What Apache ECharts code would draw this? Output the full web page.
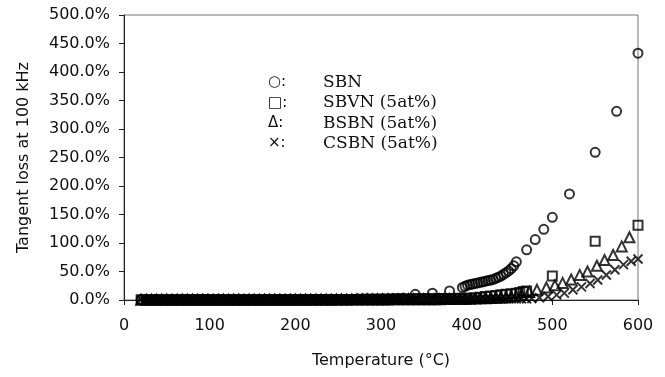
<!DOCTYPE html>
<html>
<head>
<meta charset="utf-8">
<script src="https://cdn.jsdelivr.net/npm/echarts@6/dist/echarts.min.js"></script>
<style>
  html, body { margin: 0; padding: 0; background: #fff; }
  #chart { width: 665px; height: 377px; }
</style>
</head>
<body>
<div id="chart"></div>
<script>
// dense low-temperature region shared by all samples (deg C)
const lowTemps = [20, 26, 32, 38, 44, 50, 56, 62, 68, 74, 80, 86, 92, 98, 104, 110, 116, 122, 128, 134,
  140, 146, 152, 158, 164, 170, 176, 182, 188, 194, 200, 206, 212, 218, 224, 230, 236, 242, 248, 254,
  260, 266, 272, 278, 284, 290, 296, 302, 308, 314, 320, 326, 332, 338, 344, 350, 356, 362, 368, 374,
  380, 386, 392, 398];

// tangent loss (%) - SBN
const sbnLow = [0.8, 1.0, 0.9, 1.2, 1.0, 1.1, 0.9, 1.0, 1.2, 1.1, 1.0, 0.9, 1.1, 1.2, 1.0, 1.1, 1.0, 0.9, 1.1, 1.2,
  1.0, 1.1, 1.2, 1.0, 1.1, 1.3, 1.2, 1.1, 1.0, 1.2, 1.3, 1.1, 1.2, 1.3, 1.2, 1.4, 1.3, 1.2, 1.4, 1.5,
  1.3, 1.4, 1.6, 1.5, 1.7, 1.6, 1.8, 2.0, 2.1, 2.3, 2.6, 3.0];
const sbnHighT = [340, 360, 380, 395, 398, 401, 404, 407, 410, 413, 416, 419, 422, 425, 428, 431, 434, 437,
  440, 443, 446, 449, 452, 455, 458, 470, 480, 490, 500, 520, 550, 575, 600];
const sbnHighV = [10, 12, 16, 22, 24, 26, 27, 28, 29, 30, 31, 32, 33, 34, 35, 36, 38, 40,
  42, 45, 48, 51, 55, 60, 67, 88, 106, 124, 145, 186, 259, 331, 433];

// SBVN (5at%)
const sbvnLow = [0.5, 0.6, 0.4, 0.5, 0.6, 0.5, 0.4, 0.5, 0.6, 0.5, 0.5, 0.4, 0.6, 0.5, 0.5, 0.6, 0.5, 0.4, 0.5, 0.6,
  0.5, 0.5, 0.6, 0.5, 0.4, 0.5, 0.6, 0.5, 0.5, 0.6, 0.5, 0.6, 0.7, 0.6, 0.7, 0.8, 0.7, 0.8, 0.9, 0.8,
  0.9, 1.0, 1.0, 1.1, 1.2, 1.2, 1.3, 1.4, 1.5, 1.6, 1.7, 1.8, 1.9, 2.0, 2.1, 2.2, 2.3, 2.4, 2.5, 2.6,
  2.7, 2.8, 2.9, 3.0];
const sbvnHighT = [404, 410, 416, 422, 428, 434, 440, 446, 452, 458, 462, 466, 470, 500, 550, 600];
const sbvnHighV = [3, 4, 5, 6, 7, 8, 9, 10, 11, 12, 13, 15, 16, 42, 103, 131];

// BSBN (5at%)
const bsbnLow = [0.3, 0.4, 0.3, 0.5, 0.4, 0.3, 0.4, 0.5, 0.3, 0.4, 0.4, 0.3, 0.5, 0.4, 0.3, 0.4, 0.5, 0.4, 0.3, 0.4,
  0.4, 0.5, 0.3, 0.4, 0.4, 0.5, 0.4, 0.3, 0.4, 0.5, 0.4, 0.5, 0.4, 0.5, 0.6, 0.5, 0.6, 0.5, 0.6, 0.7,
  0.6, 0.7, 0.7, 0.8, 0.8, 0.9, 0.9, 1.0, 1.0, 1.1, 1.1, 1.2, 1.2, 1.3, 1.3, 1.4, 1.4, 1.5, 1.5, 1.6,
  1.6, 1.7, 1.8, 1.9];
const bsbnHighT = [404, 410, 416, 422, 428, 434, 440, 446, 452, 458, 464, 473, 482, 493, 503, 512, 522, 532,
  541, 552, 561, 571, 581, 590];
const bsbnHighV = [2, 2.5, 3, 3, 3.5, 4, 4.5, 5, 6, 7, 9, 14, 18, 22, 26, 30, 36, 44,
  50, 60, 70, 79, 94, 110];

// CSBN (5at%)
const csbnLow = [0.2, 0.3, 0.2, 0.3, 0.3, 0.2, 0.3, 0.2, 0.3, 0.3, 0.2, 0.3, 0.2, 0.3, 0.3, 0.2, 0.3, 0.2, 0.3, 0.3,
  0.2, 0.3, 0.3, 0.2, 0.3, 0.3, 0.2, 0.3, 0.3, 0.4, 0.3, 0.4, 0.3, 0.4, 0.4, 0.3, 0.4, 0.4, 0.5, 0.4,
  0.5, 0.5, 0.6, 0.5, 0.6, 0.6, 0.7, 0.7, 0.8, 0.8, 0.9, 0.9, 1.0, 1.0, 1.1, 1.1, 1.2, 1.2, 1.3, 1.3,
  1.4, 1.4, 1.5, 1.5];
const csbnHighT = [404, 410, 416, 422, 428, 434, 440, 446, 452, 458, 464, 470, 476, 485, 495, 505, 514, 524,
  534, 544, 553, 563, 573, 583, 592, 600];
const csbnHighV = [1.5, 1.5, 1.6, 1.6, 1.7, 1.8, 1.8, 1.9, 2, 2, 2, 2, 2.5, 4, 6, 9, 12, 18,
  23, 29, 35, 44, 53, 62, 68, 72];

const legendSymbols = ['○:', '□:', 'Δ:', '×:'];
const legendNames = ['SBN', 'SBVN (5at%)', 'BSBN (5at%)', 'CSBN (5at%)'];

function pairs(temps, vals) {
  const out = [];
  for (let i = 0; i < vals.length; i++) out.push([temps[i], vals[i]]);
  return out;
}

function seriesData(low, highT, highV) {
  return pairs(lowTemps, low).concat(pairs(highT, highV));
}

const markerStyle = { color: 'rgba(0,0,0,0)', borderColor: '#000', borderWidth: 2 };

function scatter(name, data, symbol, size) {
  return {
    name: name,
    type: 'scatter',
    data: data,
    symbol: symbol,
    symbolSize: size,
    itemStyle: markerStyle,
    emphasis: { disabled: true }
  };
}

const axisFont = { fontFamily: 'DejaVu Sans', fontSize: 16, color: '#111' };

const legendGraphics = [];
legendSymbols.forEach((s, i) => {
  const y = 84 + i * 20.3;
  legendGraphics.push({
    type: 'text', left: 268, top: y - 9,
    style: { text: s, font: '15px "DejaVu Sans"', fill: '#111' }
  });
  legendGraphics.push({
    type: 'text', left: 323, top: y - 10,
    style: { text: legendNames[i], font: '17px "DejaVu Serif"', fill: '#111' }
  });
});

const chart = echarts.init(document.getElementById('chart'));
chart.setOption({
  animation: false,
  backgroundColor: '#fff',
  grid: {
    left: 124, right: 27, top: 15, bottom: 77,
    show: true, borderColor: '#777', borderWidth: 1
  },
  xAxis: {
    type: 'value',
    min: 0, max: 600, interval: 100,
    name: 'Temperature (°C)',
    nameLocation: 'middle',
    nameGap: 53,
    nameTextStyle: { fontFamily: 'DejaVu Sans', fontSize: 16, color: '#111' },
    axisLine: { lineStyle: { color: '#222', width: 1 } },
    axisTick: { show: true, length: 5, lineStyle: { color: '#222' } },
    axisLabel: Object.assign({ margin: 18 }, axisFont),
    splitLine: { show: false }
  },
  yAxis: {
    type: 'value',
    min: 0, max: 500, interval: 50,
    name: 'Tangent loss at 100 kHz',
    nameLocation: 'middle',
    nameGap: 92,
    nameTextStyle: { fontFamily: 'DejaVu Sans', fontSize: 16, color: '#111' },
    axisLine: { show: true, lineStyle: { color: '#222', width: 1 } },
    axisTick: { show: true, length: 5, lineStyle: { color: '#222' } },
    axisLabel: Object.assign({ margin: 14, formatter: (v) => v.toFixed(1) + '%' }, axisFont),
    splitLine: { show: false }
  },
  graphic: legendGraphics,
  series: [
    scatter('CSBN (5at%)', seriesData(csbnLow, csbnHighT, csbnHighV), 'path://M0,0L10,10M0,10L10,0', 9),
    scatter('BSBN (5at%)', seriesData(bsbnLow, bsbnHighT, bsbnHighV), 'triangle', 10),
    scatter('SBVN (5at%)', seriesData(sbvnLow, sbvnHighT, sbvnHighV), 'rect', 9),
    scatter('SBN', seriesData(sbnLow, sbnHighT, sbnHighV), 'circle', 9)
  ]
});
</script>
</body>
</html>
